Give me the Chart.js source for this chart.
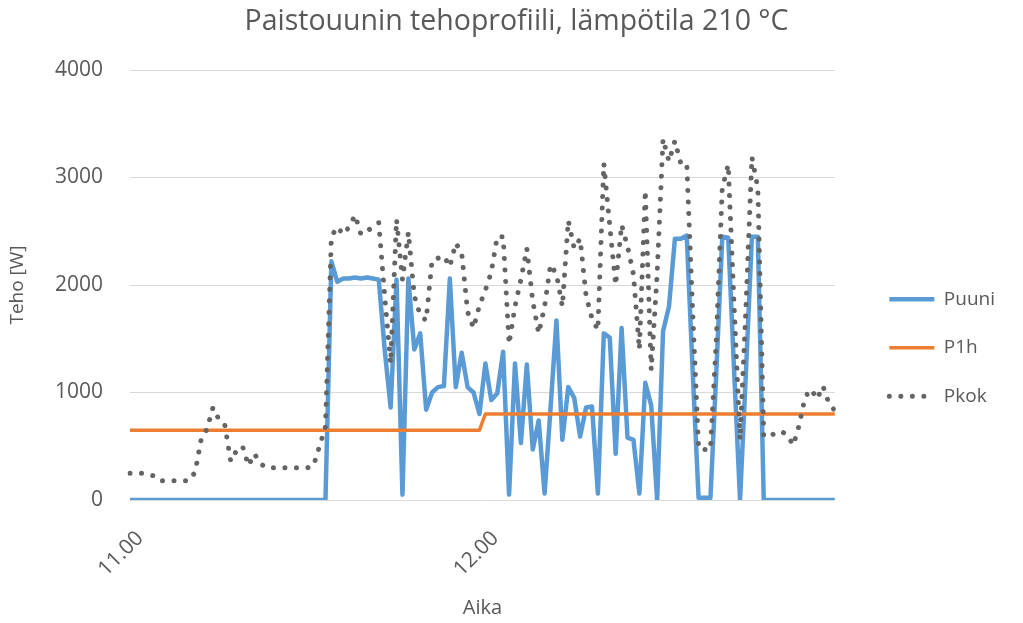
<!DOCTYPE html>
<html>
<head>
<meta charset="utf-8">
<script src="https://cdn.jsdelivr.net/npm/chart.js@4/dist/chart.umd.min.js"></script>
<style>
    html, body { margin: 0; padding: 0; background: #ffffff; }
    #wrap { width: 1023px; height: 623px; position: relative; }
</style>
</head>
<body>
<div id="wrap"><canvas id="powerChart"></canvas></div>
<script>
// minuuttilukemat klo 11.00 - 12.59
const HOURS = [11, 12];

// uunin oma teho [W]
const PUUNI = [
    0, 0, 0, 0, 0, 0, 0, 0, 0, 0,
    0, 0, 0, 0, 0, 0, 0, 0, 0, 0,
    0, 0, 0, 0, 0, 0, 0, 0, 0, 0,
    0, 0, 0, 0, 2220, 2030, 2060, 2060, 2070, 2060,
    2070, 2060, 2050, 1400, 860, 2050, 50, 2060, 1400, 1550,
    840, 1000, 1050, 1060, 2060, 1050, 1370, 1050, 1000, 800,
    1270, 930, 990, 1380, 50, 1270, 530, 1260, 470, 740,
    60, 850, 1670, 560, 1050, 950, 590, 860, 870, 60,
    1550, 1510, 430, 1600, 580, 560, 60, 1090, 880, 0,
    1570, 1800, 2430, 2430, 2460, 1200, 20, 20, 20, 1200,
    2450, 2440, 1200, 0, 1200, 2450, 2450, 0, 0, 0,
    0, 0, 0, 0, 0, 0, 0, 0, 0, 0
];

// tunnin keskiteho [W]
const P1H = [
    650, 650, 650, 650, 650, 650, 650, 650, 650, 650,
    650, 650, 650, 650, 650, 650, 650, 650, 650, 650,
    650, 650, 650, 650, 650, 650, 650, 650, 650, 650,
    650, 650, 650, 650, 650, 650, 650, 650, 650, 650,
    650, 650, 650, 650, 650, 650, 650, 650, 650, 650,
    650, 650, 650, 650, 650, 650, 650, 650, 650, 650,
    800, 800, 800, 800, 800, 800, 800, 800, 800, 800,
    800, 800, 800, 800, 800, 800, 800, 800, 800, 800,
    800, 800, 800, 800, 800, 800, 800, 800, 800, 800,
    800, 800, 800, 800, 800, 800, 800, 800, 800, 800,
    800, 800, 800, 800, 800, 800, 800, 800, 800, 800,
    800, 800, 800, 800, 800, 800, 800, 800, 800, 800
];

// keittiön kokonaisteho [W]
const PKOK = [
    250, 250, 250, 240, 225, 180, 180, 180, 180, 180,
    180, 260, 560, 660, 860, 750, 700, 360, 460, 500,
    320, 430, 340, 300, 300, 300, 300, 300, 300, 300,
    300, 320, 500, 680, 2450, 2540, 2470, 2540, 2650, 2470,
    2500, 2540, 2580, 1900, 1270, 2610, 2050, 2490, 1900, 1720,
    1670, 2230, 2250, 2270, 2170, 2390, 2300, 1750, 1600, 1810,
    1950, 2120, 2450, 2450, 1450, 1800, 2050, 2340, 1850, 1550,
    1800, 2190, 2100, 1800, 2600, 2340, 2430, 1900, 1690, 1580,
    3130, 2550, 2000, 2560, 2360, 2100, 1400, 2880, 1210, 2100,
    3360, 3150, 3340, 3130, 3130, 1750, 480, 470, 470, 1500,
    2900, 3120, 1800, 560, 1800, 3190, 2900, 590, 600, 620,
    640, 600, 510, 700, 960, 1030, 940, 1060, 900, 830
];

const Y_TICKS = [0, 1000, 2000, 3000, 4000];

const FONT = '"Open Sans", "DejaVu Sans", sans-serif';
const TEXT_COLOR = '#595959';

function makeLabels() {
    let labels = [];
    for (let h of HOURS) {
        for (let m = 0; m < 60; m++) {
            labels.push(h + '.' + (m < 10 ? '0' + m : m));
        }
    }
    return labels;
}

function makeData() {
    return {
        labels: makeLabels(),
        datasets: [{
            label: 'Puuni',
            data: PUUNI,
            borderColor: '#5b9bd5',
            backgroundColor: '#5b9bd5',
            borderWidth: 4.5,
            order: 3
        }, {
            label: 'P1h',
            data: P1H,
            borderColor: '#ed7d31',
            backgroundColor: '#ed7d31',
            borderWidth: 3.5,
            order: 2
        }, {
            label: 'Pkok',
            data: PKOK,
            borderColor: '#646464',
            backgroundColor: '#646464',
            borderWidth: 5,
            borderDash: [0.01, 11.5],
            borderCapStyle: 'round',
            order: 1
        }]
    };
}

// selitteen viivat sarjojen omilla viivatyyleillä
function legendLabels(chart) {
    let items = Chart.defaults.plugins.legend.labels.generateLabels(chart);
    for (let item of items) {
        let ds = chart.data.datasets[item.datasetIndex];
        item.lineWidth = ds.borderWidth;
        item.lineDash = ds.borderDash || [];
        item.lineCap = ds.borderCapStyle || 'butt';
        item.strokeStyle = ds.borderColor;
    }
    return items;
}

function createChart() {
    const config = {
        type: 'line',
        data: makeData(),
        options: {
            responsive: true,
            maintainAspectRatio: false,
            animation: false,
            layout: {
                padding: { top: 0, right: 18, bottom: 0, left: 28 }
            },
            elements: {
                point: { radius: 0, hoverRadius: 0 },
                line: { tension: 0, borderJoinStyle: 'round' }
            },
            scales: {
                x: {
                    type: 'category',
                    grid: { display: false },
                    border: { display: false },
                    ticks: {
                        autoSkip: false,
                        minRotation: 45,
                        maxRotation: 45,
                        padding: 18,
                        labelOffset: 10,
                        color: TEXT_COLOR,
                        font: { family: FONT, size: 21 },
                        callback: function(value, index) {
                            return index % 60 === 0 ? this.getLabelForValue(value) : '';
                        }
                    },
                    title: {
                        display: true,
                        text: 'Aika',
                        color: TEXT_COLOR,
                        font: { family: FONT, size: 20 },
                        padding: { top: 0, bottom: 3 }
                    },
                    afterFit: function(scale) { scale.height = 123; }
                },
                y: {
                    min: 0,
                    max: 4000,
                    afterBuildTicks: function(scale) {
                        scale.ticks = Y_TICKS.map(v => ({ value: v }));
                    },
                    grid: { color: '#d9d9d9', lineWidth: 1, drawTicks: false },
                    border: { display: false },
                    ticks: {
                        padding: 27,
                        color: TEXT_COLOR,
                        font: { family: FONT, size: 21 },
                        callback: v => String(v)
                    },
                    title: {
                        display: true,
                        text: 'Teho [W]',
                        color: TEXT_COLOR,
                        font: { family: FONT, size: 19 },
                        // akselin laatikko alkaa vasemmasta reunuksesta, otsikko sen vasemmalle puolelle
                        padding: { top: -21.4, bottom: 0 }
                    },
                    afterFit: function(scale) { scale.width = 102; }
                },
                // tyhjä väli piirtoalueen ja selitteen välissä
                gap: {
                    type: 'linear',
                    position: 'right',
                    display: true,
                    grid: { display: false, drawTicks: false },
                    border: { display: false },
                    ticks: { display: false },
                    afterFit: function(scale) { scale.width = 25; }
                }
            },
            plugins: {
                title: {
                    display: true,
                    text: 'Paistouunin tehoprofiili, lämpötila 210 °C',
                    color: TEXT_COLOR,
                    font: { family: FONT, size: 28.5, weight: 'normal' },
                    padding: { top: 5, bottom: 30.8 }
                },
                legend: {
                    position: 'right',
                    align: 'center',
                    title: {
                        display: true,
                        text: '',
                        font: { size: 12 },
                        padding: { top: 58, bottom: 0 }
                    },
                    labels: {
                        usePointStyle: true,
                        pointStyle: 'line',
                        pointStyleWidth: 45,
                        padding: 29.5,
                        color: TEXT_COLOR,
                        font: { family: FONT, size: 19 },
                        generateLabels: legendLabels,
                        sort: (a, b) => a.datasetIndex - b.datasetIndex
                    }
                },
                tooltip: { enabled: false }
            }
        }
    };

    var chart = new Chart('powerChart', config);
    return chart;
}

createChart();
</script>
</body>
</html>
